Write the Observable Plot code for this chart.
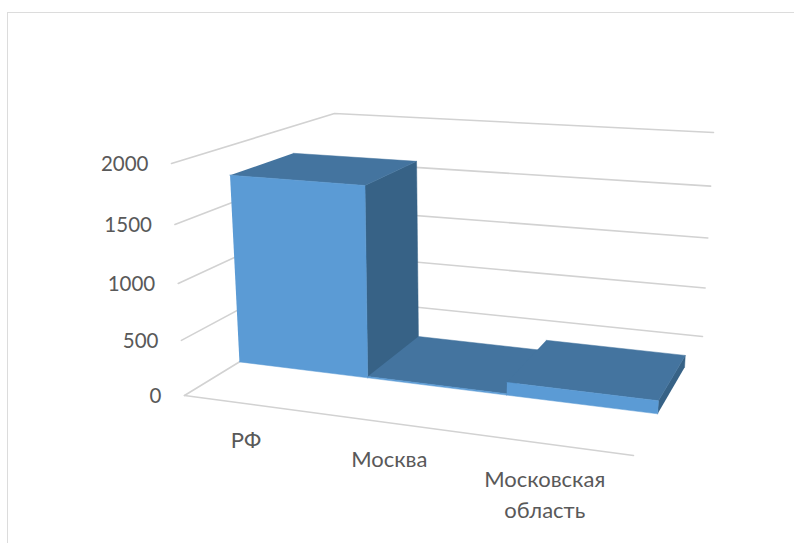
<!DOCTYPE html>
<html><head><meta charset="utf-8">
<script src="https://cdn.jsdelivr.net/npm/d3@7"></script>
<script src="https://cdn.jsdelivr.net/npm/@observablehq/plot@0.6"></script>
<style>
html,body{margin:0;padding:0;background:#fff;overflow:hidden}
#frame{position:absolute;left:7px;top:12px;right:-4px;bottom:-4px;border-top:1.5px solid #dcdcdc;border-left:1.5px solid #dcdcdc;pointer-events:none}
#chart{position:absolute;left:0;top:0}
</style></head><body>
<div id="chart"></div><div id="frame"></div>
<script>
const categories = ["РФ", "Москва", "Московская\nобласть"];
const values = [1745, 12, 118];
const yTicks = [0, 500, 1000, 1500, 2000];
const yMax = 2000;
const depthFront = 0.35, depthBack = 0.74;
const colors = {front: "#5b9bd5", top: "#44749f", side: "#376286", grid: "#d2d2d2", text: "#595959"};

// The 3-D box of the chart as it sits on the page (Excel's perspective view)
const box = {
  fl0: [184, 395], fl1: [171, 163],
  bl0: [341, 299], bl1: [334, 113],
  br0: [702, 336], br1: [713, 132],
  fr0: [633, 455], fr1: [649, 200]
};
const warp = (t, k) => t / (1 + k - k * t);
const lerp = (a, b, t) => [a[0] + (b[0] - a[0]) * t, a[1] + (b[1] - a[1]) * t];
function project(catPos, value, depth) {
  const u = warp(catPos / categories.length, 0.13);
  const t = warp(value / yMax, 0.07);
  const f0 = lerp(box.fl0, box.fr0, u), f1 = lerp(box.fl1, box.fr1, u);
  const b0 = lerp(box.bl0, box.br0, u), b1 = lerp(box.bl1, box.br1, u);
  return lerp(lerp(f0, b0, depth), lerp(f1, b1, depth), t);
}
const pt = (id, fill, c, v, d) => { const [x, y] = project(c, v, d); return {id, fill, x, y}; };

const n = categories.length;
const gridPts = [];
yTicks.forEach(v => {
  gridPts.push(pt("g" + v, colors.grid, 0, v, 0), pt("g" + v, colors.grid, 0, v, 1), pt("g" + v, colors.grid, n, v, 1));
});
gridPts.push(pt("floor", colors.grid, 0, 0, 0), pt("floor", colors.grid, n, 0, 0));

const facePts = [];
values.forEach((v, i) => {
  const [a, b, f, k] = [i, i + 1, depthFront, depthBack];
  [["side", colors.side, [[b,0,f],[b,v,f],[b,v,k],[b,0,k]]],
   ["top", colors.top, [[a,v,f],[b,v,f],[b,v,k],[a,v,k]]],
   ["front", colors.front, [[a,0,f],[b,0,f],[b,v,f],[a,v,f]]]]
  .forEach(([name, col, corners]) => corners.forEach(c => facePts.push(pt(name + i, col, ...c))));
});

const yLabels = yTicks.map(v => { const [x, y] = project(0, v, 0); return {x, y, label: String(v)}; });
const catLabels = categories.map((c, i) => { const [x, y] = project(i + 0.5, 0, 0); return {x, y, label: c}; });

const plot = Plot.plot({
  width: 794, height: 543,
  marginTop: 0, marginRight: 0, marginBottom: 0, marginLeft: 0,
  x: {domain: [0, 794], range: [0, 794], axis: null},
  y: {domain: [0, 543], range: [0, 543], axis: null},
  color: {type: "identity"},
  style: {background: "#fff"},
  marks: [
    Plot.line(gridPts, {x: "x", y: "y", z: "id", stroke: colors.grid, strokeWidth: 1.6, curve: "linear"}),
    Plot.line(facePts, {x: "x", y: "y", z: "id", fill: "fill", stroke: "fill", strokeWidth: 0.5, curve: "linear"}),
    Plot.text(yLabels, {x: "x", y: "y", text: "label", dx: -23, dy: 1, textAnchor: "end", fill: colors.text, fontSize: 20.5, fontFamily: "Lato"}),
    Plot.text(catLabels, {x: "x", y: "y", text: "label", dx: -6, dy: 21, lineAnchor: "top", lineHeight: 1.41, fill: colors.text, fontSize: 22, fontFamily: "Lato"})
  ]
});
document.getElementById("chart").appendChild(plot);
</script>
</body></html>
